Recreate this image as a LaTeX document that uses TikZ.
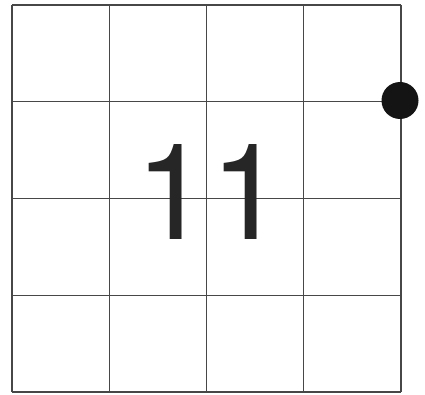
\documentclass[tikz,border=0pt]{standalone}
\usepackage{fontspec}
\setmainfont{TeX Gyre Heros}
\begin{document}
\begin{tikzpicture}[x=1pt,y=-1pt,
  gridline/.style={draw=black!72,line width=1.3pt},
  dotstyle/.style={circle,fill=black!92,minimum size=37pt,inner sep=0pt},
  numstyle/.style={text=black!85,font=\fontsize{134}{134}\selectfont,inner sep=0pt}]
\useasboundingbox (0,0) rectangle (425,395);
\fill[white] (0,0) rectangle (425,395);
\foreach \i in {0,...,4} {
  \draw[gridline] ({12+97.25*\i},5) -- ({12+97.25*\i},392);
  \draw[gridline] (12,{5+96.75*\i}) -- (401,{5+96.75*\i});
}
\node[numstyle,anchor=base] (num) at (210,240) {11};
\node[dotstyle] (dot) at (400,100.5) {};
\end{tikzpicture}
\end{document}
